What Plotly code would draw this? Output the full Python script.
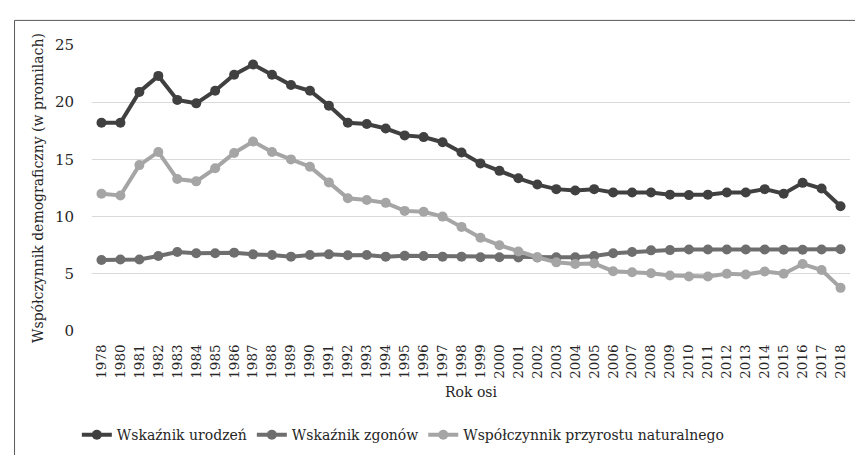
import plotly.graph_objects as go

years = ['1978', '1980', '1981', '1982', '1983', '1984', '1985', '1986', '1987', '1988',
         '1989', '1990', '1991', '1992', '1993', '1994', '1995', '1996', '1997', '1998',
         '1999', '2000', '2001', '2002', '2003', '2004', '2005', '2006', '2007', '2008',
         '2009', '2010', '2011', '2012', '2013', '2014', '2015', '2016', '2017', '2018']

urodzenia = [18.2, 18.2, 20.9, 22.3, 20.2, 19.9, 21.0, 22.4, 23.3, 22.4,
             21.5, 21.0, 19.7, 18.2, 18.1, 17.7, 17.1, 16.95, 16.5, 15.6,
             14.65, 14.0, 13.35, 12.8, 12.4, 12.28, 12.4, 12.1, 12.1, 12.1,
             11.92, 11.88, 11.92, 12.1, 12.1, 12.4, 12.0, 12.95, 12.45, 10.9]

zgony = [6.2, 6.25, 6.25, 6.55, 6.9, 6.8, 6.8, 6.85, 6.7, 6.65,
         6.5, 6.65, 6.7, 6.62, 6.65, 6.5, 6.57, 6.55, 6.5, 6.5,
         6.45, 6.45, 6.42, 6.42, 6.45, 6.45, 6.55, 6.8, 6.9, 7.05,
         7.07, 7.12, 7.12, 7.12, 7.12, 7.12, 7.1, 7.1, 7.12, 7.14]

przyrost = [12.0, 11.85, 14.5, 15.65, 13.28, 13.08, 14.22, 15.56, 16.56, 15.65,
            15.0, 14.36, 12.99, 11.6, 11.45, 11.2, 10.5, 10.42, 10.0, 9.1,
            8.15, 7.5, 6.95, 6.45, 6.0, 5.85, 5.9, 5.23, 5.14, 5.05,
            4.85, 4.77, 4.77, 5.0, 4.94, 5.2, 5.0, 5.85, 5.33, 3.77]

series = [
    ('Wskaźnik urodzeń', urodzenia, '#404040'),
    ('Wskaźnik zgonów', zgony, '#6e6e6e'),
    ('Współczynnik przyrostu naturalnego', przyrost, '#a5a5a5'),
]

font = 'DejaVu Serif'
txt = '#262626'

fig = go.Figure()
for name, vals, col in series:
    fig.add_trace(go.Scatter(
        x=years, y=vals, name=name, mode='lines+markers',
        line=dict(color=col, width=4),
        marker=dict(color=col, size=10),
    ))

fig.update_layout(
    width=863, height=455,
    margin=dict(l=84, r=21, t=37, b=127),
    paper_bgcolor='white', plot_bgcolor='white',
    font=dict(family=font, size=14, color=txt),
    showlegend=True,
    legend=dict(orientation='h', x=-0.02, xanchor='left', y=-0.364, yanchor='middle',
                font=dict(family=font, size=14, color=txt), itemwidth=30, tracegroupgap=0),
    shapes=[dict(type='rect', xref='paper', yref='paper',
                 x0=-0.1022, x1=1.025, y0=-0.46, y1=1.086,
                 line=dict(color='#595959', width=1), fillcolor='rgba(0,0,0,0)',
                 layer='below')],
)

fig.update_xaxes(
    type='category', tickangle=-90, showgrid=False, showline=False, zeroline=False,
    tickmode='array', tickvals=years, ticktext=years,
    ticks='outside', ticklen=7, tickcolor='rgba(0,0,0,0)',
    tickfont=dict(family=font, size=13.5, color=txt),
    title=dict(text='Rok osi', standoff=9, font=dict(family=font, size=14, color=txt)),
    range=[-0.5, 39.5],
)
fig.update_yaxes(
    range=[0, 25], dtick=5, showgrid=True, gridcolor='#d9d9d9', gridwidth=1,
    zeroline=False, showline=False,
    ticks='outside', ticklen=14, tickcolor='rgba(0,0,0,0)',
    tickfont=dict(family=font, size=15, color=txt),
    title=dict(text='Współczynnik demograficzny (w promilach)', standoff=8,
               font=dict(family=font, size=14, color=txt)),
)

fig.write_html('out.html')
